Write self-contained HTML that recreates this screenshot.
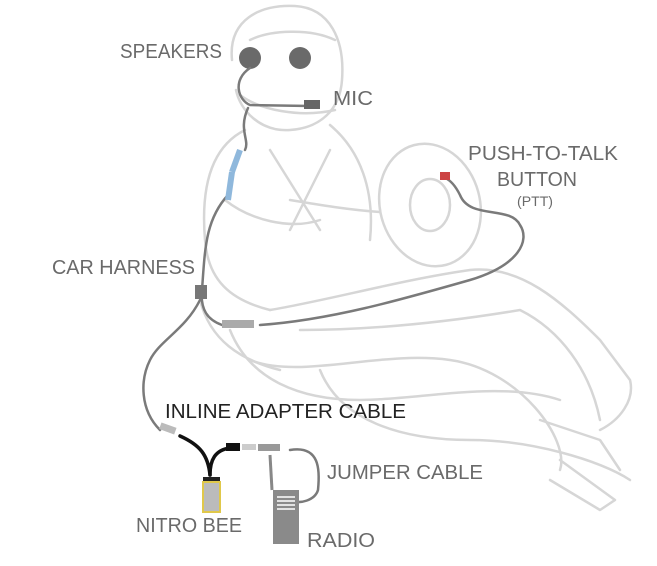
<!DOCTYPE html>
<html><head><style>html,body{margin:0;padding:0;background:#fff}svg{display:block}</style></head><body>
<svg width="657" height="566" viewBox="0 0 657 566" xmlns="http://www.w3.org/2000/svg" font-family="Liberation Sans, sans-serif">
<g fill="none" stroke="#d6d6d6" stroke-width="2.5" stroke-linecap="round" stroke-linejoin="round">
<path d="M232 60 C228 20 260 4 295 6 C330 8 345 40 342 80 C340 110 320 128 290 130 C260 132 240 110 236 90"/>
<path d="M250 40 C270 30 310 28 335 40"/>
<path d="M240 95 C260 110 300 118 335 110"/>
<path d="M245 130 C215 145 200 180 205 240 C208 280 230 300 270 310"/>
<path d="M330 125 C360 150 375 190 370 240"/>
<path d="M270 150 L320 230 M330 150 L290 230"/>
<path d="M290 200 C320 205 350 210 380 212"/>
<path d="M225 200 C250 220 290 230 320 220"/>
<ellipse cx="430" cy="205" rx="50" ry="62" transform="rotate(-15 430 205)"/>
<ellipse cx="430" cy="205" rx="20" ry="26"/>
<path d="M270 310 C330 300 400 280 470 270 C520 265 560 300 600 340 L630 380 C635 400 620 420 600 430"/>
<path d="M300 330 C380 330 460 320 520 310 C560 330 590 370 600 420"/>
<path d="M230 330 C250 380 300 400 360 400 C420 400 500 380 560 400"/>
<path d="M250 360 C300 380 380 350 450 360 C520 370 570 440 560 470"/>
<path d="M320 370 C340 420 400 440 470 440 C530 440 600 460 630 480"/>
<path d="M560 460 L615 500 L600 510 L550 480"/>
<path d="M540 420 L600 440 L620 470"/>
<path d="M200 300 C210 340 240 360 280 370"/>
</g>
<circle cx="250" cy="58" r="11" fill="#6a6a6a"/>
<circle cx="300" cy="58" r="11" fill="#6a6a6a"/>
<g fill="none" stroke="#7a7a7a" stroke-width="2.5" stroke-linecap="round">
<path d="M250 68 C232 80 238 100 250 105 L310 106"/>
<path d="M248 108 C238 130 250 140 245 150"/>
<path d="M228 195 C205 220 205 250 202 290 C200 310 208 320 222 325"/>
<path d="M200 300 C185 330 160 340 150 360 C140 380 140 410 160 430"/>
<path d="M260 325 C330 320 400 300 470 280 C520 265 530 240 520 225 C510 205 470 220 460 195 C455 185 450 180 445 178"/>
<path d="M290 450 C320 445 320 470 318 490 C315 500 300 505 290 500"/>
</g>
<rect x="304" y="100" width="16" height="9" fill="#666"/>
<path d="M240 150 L232 172" stroke="#8fb8dc" stroke-width="6"/>
<path d="M232 172 L228 200" stroke="#8fb8dc" stroke-width="6"/>
<rect x="195" y="285" width="12" height="14" fill="#777"/>
<rect x="222" y="320" width="32" height="8" fill="#aaa"/>
<rect x="440" y="172" width="10" height="8" fill="#c44"/>
<rect x="160" y="425" width="16" height="7" fill="#bbb" transform="rotate(20 168 428)"/>
<g fill="none" stroke="#111" stroke-width="3.5" stroke-linecap="round">
<path d="M180 436 C200 445 208 455 210 475"/>
<path d="M230 448 C215 450 210 460 210 475"/>
</g>
<rect x="226" y="443" width="14" height="8" fill="#111"/>
<rect x="242" y="444" width="14" height="6" fill="#ccc"/>
<rect x="258" y="444" width="22" height="7" fill="#999"/>
<rect x="203" y="477" width="17" height="5" fill="#222"/>
<rect x="203" y="482" width="17" height="30" fill="#bbb" stroke="#e0c84a" stroke-width="2"/>
<path d="M270 455 L272 490" stroke="#888" stroke-width="3"/>
<rect x="273" y="490" width="26" height="54" fill="#8a8a8a"/>
<g stroke="#fff" stroke-width="1.5"><path d="M277 497h18M277 501h18M277 505h18M277 509h18"/></g>
<g font-size="20" fill="#6a6a6a" lengthAdjust="spacingAndGlyphs">
<text x="120" y="58" textLength="102" lengthAdjust="spacingAndGlyphs">SPEAKERS</text>
<text x="333" y="105" textLength="40" lengthAdjust="spacingAndGlyphs">MIC</text>
<text x="468" y="160" textLength="150" lengthAdjust="spacingAndGlyphs">PUSH-TO-TALK</text>
<text x="497" y="186" textLength="80" lengthAdjust="spacingAndGlyphs">BUTTON</text>
<text x="517" y="206" font-size="14" textLength="36" lengthAdjust="spacingAndGlyphs">(PTT)</text>
<text x="52" y="274" textLength="143" lengthAdjust="spacingAndGlyphs">CAR HARNESS</text>
<text x="327" y="479" textLength="156" lengthAdjust="spacingAndGlyphs">JUMPER CABLE</text>
<text x="136" y="532" textLength="106" lengthAdjust="spacingAndGlyphs">NITRO BEE</text>
<text x="307" y="547" textLength="68" lengthAdjust="spacingAndGlyphs">RADIO</text>
</g>
<text x="165" y="418" font-size="20" fill="#222" textLength="241" lengthAdjust="spacingAndGlyphs">INLINE ADAPTER CABLE</text>
</svg>
</body></html>
